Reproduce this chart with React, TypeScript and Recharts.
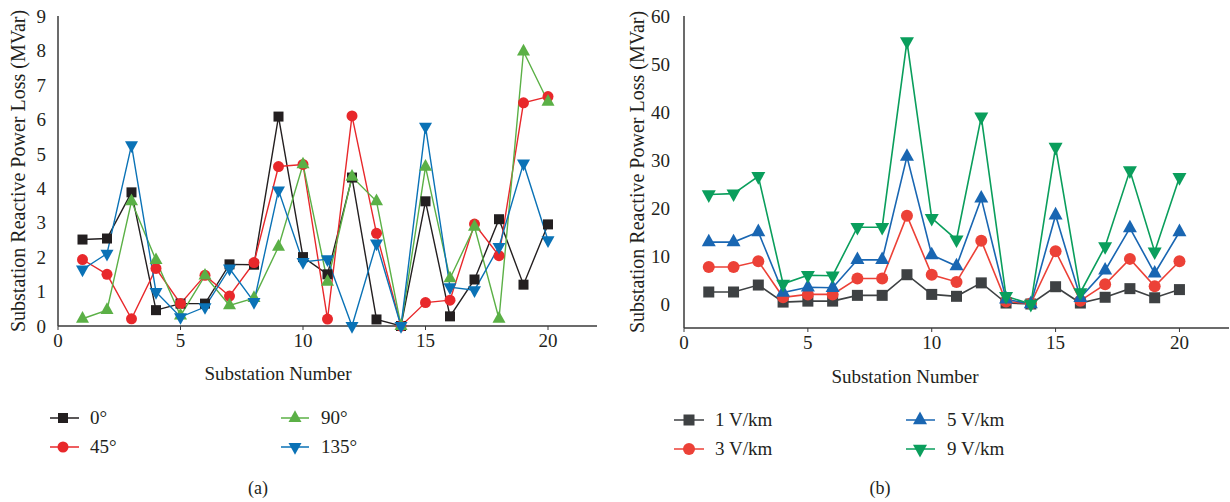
import { LineChart, Line, XAxis, YAxis, Label } from 'recharts';

const substations = [1, 2, 3, 4, 5, 6, 7, 8, 9, 10, 11, 12, 13, 14, 15, 16, 17, 18, 19, 20];

// (a) angle series
const angle0 = [2.51, 2.54, 3.88, 0.46, 0.65, 0.65, 1.79, 1.78, 6.08, 2.0, 1.5, 4.31, 0.19, 0.0, 3.62, 0.28, 1.35, 3.1, 1.2, 2.95];
const angle45 = [1.93, 1.5, 0.21, 1.67, 0.65, 1.47, 0.87, 1.84, 4.63, 4.69, 0.2, 6.1, 2.69, 0.0, 0.68, 0.75, 2.96, 2.04, 6.48, 6.66];
const angle90 = [0.21, 0.46, 3.62, 1.91, 0.3, 1.46, 0.6, 0.81, 2.3, 4.69, 1.28, 4.33, 3.62, 0.0, 4.62, 1.38, 2.88, 0.21, 7.97, 6.51];
const angle135 = [1.64, 2.1, 5.25, 0.99, 0.26, 0.55, 1.67, 0.7, 3.94, 1.86, 1.94, 0.0, 2.4, 0.0, 5.79, 1.13, 1.04, 2.3, 4.72, 2.49];

// (b) field strength series
const field1 = [2.5, 2.5, 3.95, 0.4, 0.6, 0.6, 1.8, 1.8, 6.1, 2.0, 1.6, 4.4, 0.2, 0.0, 3.6, 0.2, 1.4, 3.2, 1.3, 3.0];
const field3 = [7.7, 7.7, 8.9, 1.4, 2.0, 2.0, 5.3, 5.3, 18.4, 6.1, 4.6, 13.2, 0.5, 0.1, 11.0, 0.7, 4.1, 9.4, 3.7, 8.9];
const field5 = [12.9, 12.9, 15.0, 2.4, 3.5, 3.4, 9.2, 9.2, 30.7, 10.2, 7.9, 22.0, 1.0, 0.0, 18.5, 1.3, 7.0, 15.8, 6.4, 15.0];
const field9 = [22.8, 23.0, 26.6, 4.2, 6.0, 5.9, 16.0, 16.0, 54.7, 17.9, 13.4, 39.0, 1.6, 0.0, 32.7, 2.4, 12.0, 27.8, 10.9, 26.4];

const xTicks = [0, 5, 10, 15, 20];
const leftYTicks = [0, 1, 2, 3, 4, 5, 6, 7, 8, 9];
const rightYTicks = [0, 10, 20, 30, 40, 50, 60];

const dataA = substations.map((s, i) => ({ s, a0: angle0[i], a45: angle45[i], a90: angle90[i], a135: angle135[i] }));
const dataB = substations.map((s, i) => ({ s, f1: field1[i], f3: field3[i], f5: field5[i], f9: field9[i] }));

type Shape = 'square' | 'circle' | 'up' | 'down';

const FONT = '"Liberation Serif", "DejaVu Serif", serif';
const TEXT = '#231f20';
const FRAME = '#3a3a3a';

function marker(shape: Shape, cx: number, cy: number, size: number, color: string, key?: number) {
  if (shape === 'square') {
    return <rect key={key} x={cx - size / 2} y={cy - size / 2} width={size} height={size} fill={color} />;
  }
  if (shape === 'circle') {
    return <circle key={key} cx={cx} cy={cy} r={size / 2} fill={color} />;
  }
  const h = size * 0.9;
  if (shape === 'up') {
    return (
      <polygon key={key} fill={color}
        points={`${cx},${cy - (2 * h) / 3} ${cx - size / 2},${cy + h / 3} ${cx + size / 2},${cy + h / 3}`} />
    );
  }
  return (
    <polygon key={key} fill={color}
      points={`${cx},${cy + (2 * h) / 3} ${cx - size / 2},${cy - h / 3} ${cx + size / 2},${cy - h / 3}`} />
  );
}

const dotFn = (shape: Shape, size: number, color: string) => (props: any) =>
  marker(shape, props.cx, props.cy, size, color, props.index);

const yLabel = (x: number) => (props: any) => {
  const vb = props.viewBox;
  const cy = vb.y + vb.height / 2;
  return (
    <text x={x} y={cy} transform={`rotate(-90 ${x} ${cy})`} textAnchor="middle" dominantBaseline="central"
      fill={TEXT} fontSize={20} fontFamily={FONT}>
      Substation Reactive Power Loss (MVar)
    </text>
  );
};

// x-axis title placed at a fixed centre (in chart coordinates)
const xLabel = (cx: number, y: number) => () => (
  <text x={cx} y={y} textAnchor="middle" dominantBaseline="central" fill={TEXT} fontSize={19} fontFamily={FONT}>
    Substation Number
  </text>
);

interface SeriesDef {
  key: string;
  name: string;
  color: string;
  shape: Shape;
  size: number;
}

const seriesA: SeriesDef[] = [
  { key: 'a0', name: '0°', color: '#231f20', shape: 'square', size: 10 },
  { key: 'a45', name: '45°', color: '#e8282b', shape: 'circle', size: 11 },
  { key: 'a90', name: '90°', color: '#5bb046', shape: 'up', size: 13 },
  { key: 'a135', name: '135°', color: '#0a72b6', shape: 'down', size: 13 },
];

const seriesB: SeriesDef[] = [
  { key: 'f1', name: '1 V/km', color: '#3e4143', shape: 'square', size: 11 },
  { key: 'f3', name: '3 V/km', color: '#ec4137', shape: 'circle', size: 12 },
  { key: 'f5', name: '5 V/km', color: '#1966b2', shape: 'up', size: 14 },
  { key: 'f9', name: '9 V/km', color: '#0a9e5c', shape: 'down', size: 14 },
];

function LegendItem({ s, x, y, lineFrom, lineTo, textX }: { s: SeriesDef; x: number; y: number; lineFrom: number; lineTo: number; textX: number }) {
  return (
    <>
      <svg style={{ position: 'absolute', left: lineFrom, top: y - 10 }} width={lineTo - lineFrom} height={20}>
        <line x1={0} x2={lineTo - lineFrom} y1={10} y2={10} stroke={s.color} strokeWidth={1.5} />
        {marker(s.shape, x - lineFrom, 10, s.size, s.color)}
      </svg>
      <div style={{ position: 'absolute', left: textX, top: y - 12, fontSize: 19, lineHeight: '24px', fontFamily: FONT, color: TEXT, whiteSpace: 'nowrap' }}>
        {s.name}
      </div>
    </>
  );
}

const tickStyle = { fill: TEXT, fontSize: 19, fontFamily: FONT };

export default function App() {
  return (
    <div style={{ position: 'absolute', left: 0, top: 0, width: 1230, height: 502, background: '#fff' }}>
      <div style={{ position: 'absolute', left: 0, top: 0 }}>
        <LineChart width={615} height={390} data={dataA} margin={{ top: 16, right: 18, bottom: 0, left: 0 }}>
          <XAxis dataKey="s" type="number" domain={[0, 22]} ticks={xTicks} height={64}
            tick={tickStyle} tickSize={4} tickMargin={4} stroke={FRAME} axisLine={{ stroke: FRAME, strokeWidth: 1.5 }}>
            <Label content={xLabel(278, 373)} />
          </XAxis>
          <XAxis xAxisId="top" orientation="top" type="number" domain={[0, 22]} height={0} tick={false} tickLine={false}
            axisLine={{ stroke: FRAME, strokeWidth: 1.5 }} />
          <YAxis type="number" domain={[0, 9]} ticks={leftYTicks} width={58} tick={tickStyle} tickLine={false} tickMargin={6}
            axisLine={{ stroke: FRAME, strokeWidth: 1.5 }}>
            <Label content={yLabel(18)} />
          </YAxis>
          <YAxis yAxisId="right" orientation="right" width={0} tick={false} tickLine={false}
            axisLine={{ stroke: FRAME, strokeWidth: 1.5 }} />
          {seriesA.map((s) => (
            <Line key={s.key} dataKey={s.key} name={s.name} stroke={s.color} strokeWidth={1.4}
              dot={dotFn(s.shape, s.size, s.color)} activeDot={false} isAnimationActive={false} />
          ))}
        </LineChart>
      </div>

      <div style={{ position: 'absolute', left: 615, top: 0 }}>
        <LineChart width={615} height={390} data={dataB} margin={{ top: 16, right: 1, bottom: 0, left: 0 }}>
          <XAxis dataKey="s" type="number" domain={[0, 22]} ticks={xTicks} height={62}
            tick={tickStyle} tickSize={4} tickMargin={4} stroke={FRAME} axisLine={{ stroke: FRAME, strokeWidth: 1.5 }}>
            <Label content={xLabel(290, 376)} />
          </XAxis>
          <XAxis xAxisId="top" orientation="top" type="number" domain={[0, 22]} height={0} tick={false} tickLine={false}
            axisLine={{ stroke: FRAME, strokeWidth: 1.5 }} />
          <YAxis type="number" domain={[-5, 60]} ticks={rightYTicks} width={69} tick={tickStyle} tickLine={false} tickMargin={8}
            axisLine={{ stroke: FRAME, strokeWidth: 1.5 }}>
            <Label content={yLabel(22)} />
          </YAxis>
          <YAxis yAxisId="right" orientation="right" width={0} tick={false} tickLine={false}
            axisLine={{ stroke: FRAME, strokeWidth: 1.5 }} />
          {seriesB.map((s) => (
            <Line key={s.key} dataKey={s.key} name={s.name} stroke={s.color} strokeWidth={1.6}
              dot={dotFn(s.shape, s.size, s.color)} activeDot={false} isAnimationActive={false} />
          ))}
        </LineChart>
      </div>

      <LegendItem s={seriesA[0]} x={63} y={418} lineFrom={50} lineTo={79} textX={90} />
      <LegendItem s={seriesA[1]} x={63} y={447} lineFrom={50} lineTo={79} textX={90} />
      <LegendItem s={seriesA[2]} x={295} y={418} lineFrom={281} lineTo={309} textX={321} />
      <LegendItem s={seriesA[3]} x={295} y={447} lineFrom={281} lineTo={309} textX={321} />

      <LegendItem s={seriesB[0]} x={689} y={420} lineFrom={674} lineTo={704} textX={715} />
      <LegendItem s={seriesB[1]} x={689} y={449} lineFrom={674} lineTo={704} textX={715} />
      <LegendItem s={seriesB[2]} x={920} y={420} lineFrom={906} lineTo={935} textX={947} />
      <LegendItem s={seriesB[3]} x={920} y={449} lineFrom={906} lineTo={935} textX={947} />

      <div style={{ position: 'absolute', left: 240, top: 476, width: 36, textAlign: 'center', fontSize: 18, lineHeight: '24px', fontFamily: FONT, color: TEXT }}>(a)</div>
      <div style={{ position: 'absolute', left: 862, top: 476, width: 36, textAlign: 'center', fontSize: 18, lineHeight: '24px', fontFamily: FONT, color: TEXT }}>(b)</div>
    </div>
  );
}
